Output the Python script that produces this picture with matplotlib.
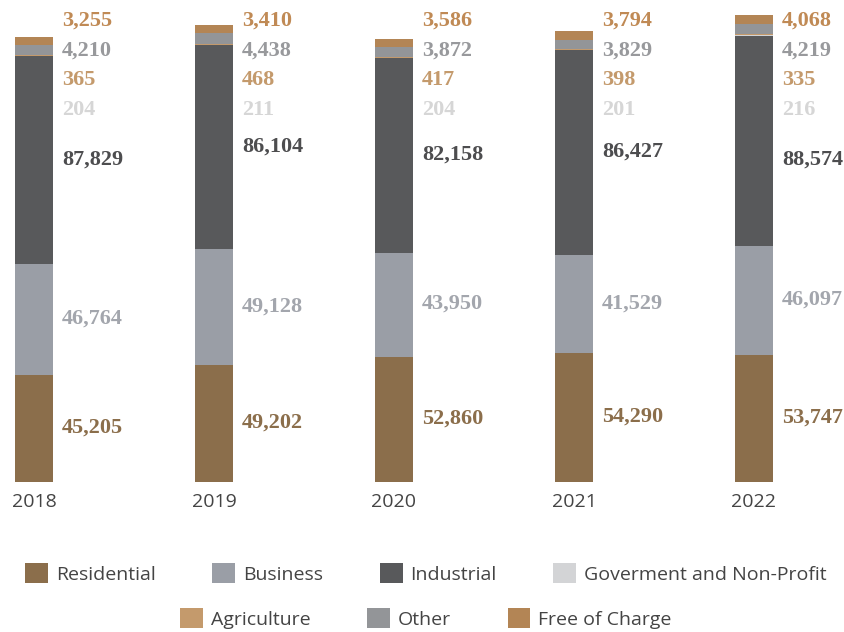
import matplotlib.pyplot as plt
import numpy as np
from matplotlib.patches import Patch

years = ['2018', '2019', '2020', '2021', '2022']
residential = [45205, 49202, 52860, 54290, 53747]
business = [46764, 49128, 43950, 41529, 46097]
industrial = [87829, 86104, 82158, 86427, 88574]
government = [204, 211, 204, 201, 216]
agriculture = [365, 468, 417, 398, 335]
other = [4210, 4438, 3872, 3829, 4219]
free_of_charge = [3255, 3410, 3586, 3794, 4068]

names = ['Residential', 'Business', 'Industrial', 'Goverment and Non-Profit',
         'Agriculture', 'Other', 'Free of Charge']
series = [residential, business, industrial, government, agriculture,
          other, free_of_charge]
bar_colors = ['#8b6e4b', '#9a9ea6', '#58595b', '#d3d4d6', '#c49a6c',
              '#939598', '#b38555']
text_colors = ['#8b6e4b', '#a3a6ad', '#4d4d4f', '#d6d6d6', '#c49a6c',
               '#98999c', '#c08a55']

fig = plt.figure(figsize=(8.45, 6.32), dpi=100)
ax_h = 482  # axes height in pixels
ax = fig.add_axes([0, 150 / 632, 1, ax_h / 632])

x = np.arange(len(years))
width = 38 / 180
bottom = np.zeros(len(years))
for vals, name, col in zip(series, names, bar_colors):
    ax.bar(x, vals, width, bottom=bottom, color=col, label=name)
    bottom += np.array(vals)

ymax = 203500
ax.set_xlim(-34 / 180, (845 - 34) / 180)
ax.set_ylim(0, ymax)
px = ymax / ax_h  # one pixel in data units

label_font = dict(family='Liberation Serif', fontweight='bold', fontsize=16)
lx = x + width / 2 + 9 / 180
half_digit = 7.3  # px from digit centre down to baseline

# a couple of labels sit a bit off the segment middle
nudge = {(2, 4): -20}

# big segments: label beside the segment
base = np.zeros(len(years))
for k in range(3):
    vals = np.array(series[k])
    for i in range(len(years)):
        yc = base[i] + vals[i] / 2 + (3 + nudge.get((k, i), 0)) * px
        ax.text(lx[i], yc - half_digit * px, f'{vals[i]:,}',
                color=text_colors[k], va='baseline', ha='left', **label_font)
    base += vals

# small segments: stacked list near the top
trans = ax.get_xaxis_transform()
for row, k in enumerate([6, 5, 4, 3]):
    ypos = (ax_h - 18 - 30 * row - half_digit) / ax_h
    for i in range(len(years)):
        ax.text(lx[i], ypos, f'{series[k][i]:,}', transform=trans,
                color=text_colors[k], va='baseline', ha='left', **label_font)

ax.set_xticks(x)
ax.set_xticklabels(years, fontsize=14, color='#444444', family='Open Sans')
ax.tick_params(axis='x', length=0, pad=8)
ax.set_yticks([])
for s in ax.spines.values():
    s.set_visible(False)

handles = [Patch(facecolor=c, edgecolor='none') for c in bar_colors]
leg_opts = dict(frameon=False, prop={'family': 'Open Sans', 'size': 14},
                handlelength=1.18, handleheight=1.18, handletextpad=0.41,
                columnspacing=2.9, loc='center', labelcolor='#444444',
                borderaxespad=0, borderpad=0)
fig.legend(handles[:4], names[:4], ncol=4,
           bbox_to_anchor=(426 / 845, 1 - 573.5 / 632), **leg_opts)
fig.legend(handles[4:], names[4:], ncol=3,
           bbox_to_anchor=(426 / 845, 1 - 618.5 / 632), **leg_opts)

fig.savefig('out.png', dpi=100)
